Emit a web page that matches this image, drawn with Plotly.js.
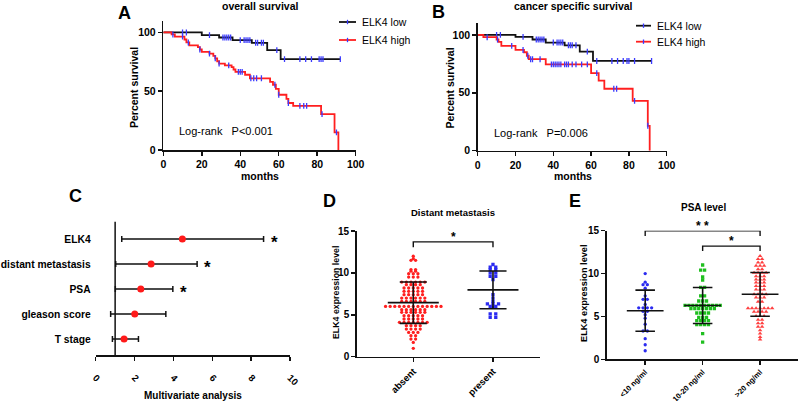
<!DOCTYPE html>
<html><head><meta charset="utf-8">
<script src="https://cdn.plot.ly/plotly-3.0.1.min.js"></script>
<style>html,body{margin:0;padding:0;background:#fff}#c{width:800px;height:401px}</style>
</head><body><div id="c"></div>
<script>
// ---------- Panel A: overall survival ----------
const lowTimeA = [0, 20, 29, 36, 46, 54, 61, 92];
const lowSurvA = [100, 97.7, 95.7, 93.5, 91.2, 85, 77.3, 77.3];
const lowCensA = [10, 12, 24, 31, 32, 33, 34, 35, 40, 42, 43, 44, 45, 48, 49, 51, 52, 59, 63, 71, 74, 77, 81, 82, 83, 92];
const highTimeA = [0, 4.3, 6, 11, 12, 13.5, 18, 19, 20, 24, 26, 27, 28, 29, 32, 35.5, 36.5, 37.5, 42.5, 45, 55.5, 57, 58.5, 60, 64, 65, 67.5, 82, 89, 91];
const highSurvA = [100, 98.3, 96.5, 94, 91.5, 89, 87.5, 85.5, 83.5, 82, 80, 78, 75.5, 73.5, 72, 70.5, 68.5, 66.5, 64, 61, 58, 55.5, 52, 47, 43.5, 40, 37.5, 30.5, 15, 0];
const highCensA = [5, 10, 13, 19, 24, 27, 29, 34, 39, 40, 41, 45.5, 47, 48.5, 51, 58, 60, 65, 71, 73, 74.5, 82.5, 90];

// ---------- Panel B: cancer specific survival ----------
const lowTimeB = [0, 20, 29, 36, 46, 54, 61, 92];
const lowSurvB = [100, 98.3, 96, 93.4, 91, 85.5, 77.5, 77.5];
const lowCensB = [10, 12, 24, 31, 32, 33, 34, 35, 40, 42, 43, 44, 45, 48, 49, 50, 52, 58, 63, 71, 74, 77, 79, 80, 83, 92];
const highTimeB = [0, 3, 10, 11, 12.5, 20, 24.5, 26, 27, 36, 60, 64, 67, 82, 90, 91];
const highSurvB = [100, 98, 96, 94, 90.5, 87, 85, 82, 79, 74.5, 67, 60.5, 53.5, 43, 21.5, 0];
const highCensB = [5, 10.5, 18, 24, 26.5, 28, 29, 33, 39, 40, 41, 42, 43, 44, 46, 47, 48, 50, 52, 55, 58, 63, 72, 73.5, 83, 90];

const kmTicksX = [0, 20, 40, 60, 80, 100];
const kmTicksY = [0, 50, 100];
const legendLabels = ['ELK4 low', 'ELK4 high'];

// ---------- Panel C: multivariate analysis ----------
const cLabels = ['ELK4', 'distant metastasis', 'PSA', 'gleason score', 'T stage'];
const cHR = [4.46, 2.85, 2.32, 2.01, 1.46];
const cLow = [1.34, 1.03, 1.01, 0.77, 0.86];
const cHigh = [8.64, 5.22, 3.97, 3.61, 2.20];
const cSig = ['*', '*', '*', '', ''];
const cTicks = [0, 2, 4, 6, 8, 10];

// ---------- Panel D: distant metastasis ----------
const dCats = ['absent', 'present'];
const dAbsent = [12.0, 11.7, 11.5, 11.5, 10.4, 10.4, 10.2, 10.2, 9.9, 9.9, 9.9, 9.5, 9.5, 9.5,
  8.9, 8.9, 8.9, 8.9, 8.9, 8.9, 8.6, 8.6, 8.6, 8.6, 8.2, 8.2, 8.2, 8.2, 8.2,
  7.8, 7.8, 7.8, 7.8, 7.8, 7.4, 7.4, 7.4, 7.4, 7.4, 7.0, 7.0, 7.0, 7.0, 7.0, 7.0,
  6.6, 6.6, 6.6, 6.6, 6.6, 6.6, 6.0, 6.0, 6.0, 6.0, 6.0, 6.0, 6.0, 6.0, 6.0, 6.0, 6.0, 6.0, 6.0,
  5.6, 5.6, 5.6, 5.6, 5.6, 5.6, 5.3, 5.3, 5.3, 5.3, 5.3, 5.3, 4.9, 4.9, 4.9, 4.9, 4.9,
  4.5, 4.5, 4.5, 4.5, 4.5, 4.1, 4.1, 4.1, 4.1, 4.1, 4.1, 4.1, 3.7, 3.7, 3.7, 3.7,
  3.3, 3.3, 3.3, 3.3, 2.9, 2.9, 2.9, 2.5, 2.5, 2.1, 2.1, 1.7, 1.0];
const dPresent = [11.0, 10.7, 10.7, 10.4, 10.4, 10.0, 10.0, 9.6, 9.6, 9.2, 7.4, 7.0, 6.6,
  6.3, 6.3, 6.3, 6.0, 6.0, 5.9, 5.1, 5.1, 4.7, 4.7];
const dMean = [6.45, 7.97];
const dSD = [2.47, 2.25];

// ---------- Panel E: PSA level ----------
const eCats = ['&lt;10 ng/ml', '10-20 ng/ml', '&gt;20 ng/ml'];
const eLow = [10.0, 9.0, 8.7, 8.7, 8.3, 7.4, 7.0, 7.0, 6.4, 6.0, 6.0, 6.0, 6.0, 5.6, 5.6, 5.2, 4.8, 4.1, 3.3, 3.3, 2.4, 1.7, 1.0];
const eMid = [11.0, 10.4, 10.4, 9.6, 9.25, 8.4, 8.4, 7.4, 7.4, 6.8, 6.8, 6.8,
  6.3, 6.3, 6.3, 6.3, 6.3, 6.3, 6.3, 6.3, 6.3, 6.3, 5.9, 5.9, 5.9, 5.9, 5.9, 5.9, 5.9,
  5.4, 5.4, 5.4, 5.4, 4.9, 4.9, 4.9, 4.5, 4.5, 4.5, 4.5, 4.05, 4.05, 4.05, 4.05, 3.0, 2.0];
const eHigh = [12.05, 11.7, 11.7, 11.3, 11.3, 10.9, 10.9, 10.9, 10.5, 10.5, 10.1, 10.1, 10.1, 10.1,
  9.7, 9.7, 9.7, 9.3, 9.3, 9.3, 8.95, 8.95, 8.95, 8.55, 8.55, 8.55, 8.15, 8.15, 8.15,
  7.6, 7.6, 7.6, 7.6, 7.2, 7.2, 7.2, 6.7, 6.7, 5.95, 5.95, 5.95, 5.95, 5.95, 5.95, 5.95,
  5.55, 5.55, 5.55, 5.55, 5.05, 5.05, 5.05, 4.6, 4.6, 4.2, 4.2, 3.8, 3.8, 3.4, 3.0, 2.6, 2.3];
const eMean = [5.67, 6.28, 7.58];
const eSD = [2.4, 2.1, 2.55];
const exprTicks = [0, 5, 10, 15];

// ---------- helpers ----------
const W = 800, H = 401;
const FONT = 'Liberation Sans, Arial, sans-serif';
const fx = p => p / W;
const fy = p => 1 - p / H;
const BLACK = '#111111', RED = '#ff1f1f', BLUE = '#2b2bf0', GREEN = '#1fbf1f', CENS = '#3a3aff';

function stepAt(times, surv, t) {
  let v = surv[0];
  for (let i = 0; i < times.length; i++) { if (times[i] <= t) v = surv[i]; }
  return v;
}
function swarm(vals, center, step) {
  const groups = {};
  vals.forEach((v, i) => { const k = v.toFixed(2); (groups[k] = groups[k] || []).push(i); });
  const xs = new Array(vals.length);
  Object.values(groups).forEach(idx => {
    const n = idx.length;
    idx.forEach((id, j) => { xs[id] = center + (j - (n - 1) / 2) * step; });
  });
  return xs;
}
function meanSdLines(means, sds, half, cap) {
  const xs = [], ys = [];
  means.forEach((m, i) => {
    xs.push(i - half, i + half, null); ys.push(m, m, null);
    xs.push(i, i, null); ys.push(m - sds[i], m + sds[i], null);
    xs.push(i - cap, i + cap, null); ys.push(m + sds[i], m + sds[i], null);
    xs.push(i - cap, i + cap, null); ys.push(m - sds[i], m - sds[i], null);
  });
  return {xs, ys};
}

const traces = [];
function km(times, surv, cens, color, xa, ya) {
  traces.push({x: times, y: surv, xaxis: xa, yaxis: ya, mode: 'lines', line: {shape: 'hv', color: color, width: 1.8}, hoverinfo: 'skip'});
  traces.push({x: cens, y: cens.map(t => stepAt(times, surv, t)), xaxis: xa, yaxis: ya, mode: 'markers',
    marker: {symbol: 'line-ns-open', size: 4.2, color: CENS, line: {color: CENS, width: 1.3}}, hoverinfo: 'skip'});
}
km(lowTimeA, lowSurvA, lowCensA, BLACK, 'x', 'y');
km(highTimeA, highSurvA, highCensA, RED, 'x', 'y');
km(lowTimeB, lowSurvB, lowCensB, BLACK, 'x2', 'y2');
km(highTimeB, highSurvB, highCensB, RED, 'x2', 'y2');

// Panel C
const cY = cLabels.map((_, i) => cLabels.length - 1 - i);
traces.push({x: cHR, y: cY, xaxis: 'x3', yaxis: 'y3', mode: 'markers',
  marker: {color: '#ff1a1a', size: 7},
  error_x: {type: 'data', symmetric: false, array: cHigh.map((h, i) => h - cHR[i]), arrayminus: cLow.map((l, i) => cHR[i] - l),
    color: BLACK, thickness: 1.5, width: 3}, hoverinfo: 'skip'});

// Panel D
traces.push({x: swarm(dAbsent, 0, 0.058), y: dAbsent, xaxis: 'x4', yaxis: 'y4', mode: 'markers',
  marker: {color: RED, size: 3.3}, hoverinfo: 'skip'});
traces.push({x: swarm(dPresent, 1, 0.07), y: dPresent, xaxis: 'x4', yaxis: 'y4', mode: 'markers',
  marker: {color: BLUE, size: 3.3, symbol: 'square'}, hoverinfo: 'skip'});
const dl = meanSdLines(dMean, dSD, 0.32, 0.17);
traces.push({x: dl.xs, y: dl.ys, xaxis: 'x4', yaxis: 'y4', mode: 'lines', line: {color: BLACK, width: 1.6}, hoverinfo: 'skip'});

// Panel E
traces.push({x: swarm(eLow, 0, 0.075), y: eLow, xaxis: 'x5', yaxis: 'y5', mode: 'markers',
  marker: {color: BLUE, size: 3.3}, hoverinfo: 'skip'});
traces.push({x: swarm(eMid, 1, 0.068), y: eMid, xaxis: 'x5', yaxis: 'y5', mode: 'markers',
  marker: {color: GREEN, size: 3.3, symbol: 'square'}, hoverinfo: 'skip'});
traces.push({x: swarm(eHigh, 2, 0.07), y: eHigh, xaxis: 'x5', yaxis: 'y5', mode: 'markers',
  marker: {color: '#ff4040', size: 4, symbol: 'triangle-up'}, hoverinfo: 'skip'});
const el = meanSdLines(eMean, eSD, 0.32, 0.17);
traces.push({x: el.xs, y: el.ys, xaxis: 'x5', yaxis: 'y5', mode: 'lines', line: {color: BLACK, width: 1.6}, hoverinfo: 'skip'});

// ---------- axes ----------
const tickFont = {family: FONT, size: 10.5, color: '#000', weight: 'bold'};
function ax(extra) {
  return Object.assign({showgrid: false, zeroline: false, showline: true, linecolor: BLACK, linewidth: 1.5,
    ticks: 'outside', ticklen: 4, tickwidth: 1.5, tickcolor: BLACK, tickfont: tickFont, fixedrange: true}, extra);
}

const layout = {
  width: W, height: H, margin: {l: 0, r: 0, t: 0, b: 0}, showlegend: false,
  paper_bgcolor: '#fff', plot_bgcolor: 'rgba(0,0,0,0)',
  xaxis: ax({domain: [fx(163.3), fx(355.7)], range: [0, 100], tickvals: kmTicksX, anchor: 'y'}),
  yaxis: ax({domain: [fy(150), fy(20.7)], range: [0, 110], tickvals: kmTicksY, anchor: 'x'}),
  xaxis2: ax({domain: [fx(477.7), fx(666.7)], range: [0, 100], tickvals: kmTicksX, anchor: 'y2'}),
  yaxis2: ax({domain: [fy(150.7), fy(23.3)], range: [0, 110], tickvals: kmTicksY, anchor: 'x2'}),
  xaxis3: ax({domain: [fx(95.7), fx(290)], range: [0, 10], tickvals: cTicks, tickangle: 45, anchor: 'y3',
    ticklabelstandoff: 8, tickfont: Object.assign({}, tickFont, {size: 9.5})}),
  yaxis3: ax({domain: [fy(355), fy(221.7)], range: [-0.64, 4.69], tickvals: cY, ticktext: cLabels, anchor: 'x3',
    showline: false, ticks: '', ticklabelstandoff: 4, tickfont: Object.assign({}, tickFont, {size: 10.3})}),
  xaxis4: ax({domain: [fx(356.7), fx(540)], range: [-0.71, 1.59], tickvals: [0, 1], ticktext: dCats, tickangle: -45, anchor: 'y4',
    tickfont: Object.assign({}, tickFont, {size: 9.5})}),
  yaxis4: ax({domain: [fy(356.7), fy(231)], range: [0, 15], tickvals: exprTicks, anchor: 'x4', tickfont: Object.assign({}, tickFont, {size: 10})}),
  xaxis5: ax({domain: [fx(606.7), fx(798)], range: [-0.67, 2.66], tickvals: [0, 1, 2], ticktext: eCats, tickangle: -45, anchor: 'y5',
    tickfont: Object.assign({}, tickFont, {size: 7.6})}),
  yaxis5: ax({domain: [fy(359.3), fy(230.7)], range: [0, 15], tickvals: exprTicks, anchor: 'x5', tickfont: Object.assign({}, tickFont, {size: 10})}),
  shapes: [], annotations: []
};

function ann(x, y, text, size, opts) {
  layout.annotations.push(Object.assign({xref: 'paper', yref: 'paper', x: fx(x), y: fy(y), text: text, showarrow: false,
    font: {family: FONT, size: size, color: '#000'}, xanchor: 'center', yanchor: 'middle'}, opts || {}));
}
// panel letters
ann(124, 13, '<b>A</b>', 18); ann(438.7, 12, '<b>B</b>', 18);
ann(75, 196, '<b>C</b>', 18); ann(329, 201, '<b>D</b>', 18); ann(574.5, 201, '<b>E</b>', 18);
// titles
ann(260.3, 6, '<b>overall survival</b>', 10.5);
ann(573, 6, '<b>cancer specific survival</b>', 10.5);
ann(453, 212, '<b>Distant metastasis</b>', 9.5);
ann(703, 207.5, '<b>PSA level</b>', 10);
ann(260, 176, '<b>months</b>', 10.5); ann(572.5, 176, '<b>months</b>', 10.5);
ann(134, 88, '<b>Percent survival</b>', 10.5, {textangle: -90});
ann(449.5, 88, '<b>Percent survival</b>', 10.5, {textangle: -90});
ann(336, 293, '<b>ELK4 expression level</b>', 8.8, {textangle: -90});
ann(584, 293, '<b>ELK4 expression level</b>', 9.2, {textangle: -90});
ann(193.3, 395, '<b>Multivariate analysis</b>', 10);
ann(176.7, 130.5, 'Log-rank\u00a0\u00a0 P&lt;0.001', 11, {xanchor: 'left'});
ann(492.3, 133, 'Log-rank\u00a0\u00a0 P=0.006', 11, {xanchor: 'left'});

// manual legends
function legendRow(x0, x1, y, color, label) {
  layout.shapes.push({type: 'line', xref: 'paper', yref: 'paper', x0: fx(x0), x1: fx(x1), y0: fy(y), y1: fy(y), line: {color: color, width: 1.8}});
  const xm = (x0 + x1) / 2;
  layout.shapes.push({type: 'line', xref: 'paper', yref: 'paper', x0: fx(xm), x1: fx(xm), y0: fy(y - 2.2), y1: fy(y + 2.2), line: {color: CENS, width: 1.3}});
  ann(x1 + 4, y, label, 10.5, {xanchor: 'left'});
}
legendRow(339, 356, 22, BLACK, legendLabels[0]);
legendRow(339, 356, 40, RED, legendLabels[1]);
legendRow(636, 651, 25.7, BLACK, legendLabels[0]);
legendRow(636, 651, 41.7, RED, legendLabels[1]);

// panel C reference line at HR = 1 and significance stars
layout.shapes.push({type: 'line', xref: 'x3', yref: 'y3 domain', x0: 1, x1: 1, y0: 0, y1: 1, line: {color: BLACK, width: 1.5}});
cSig.forEach((s, i) => {
  if (s) layout.annotations.push({xref: 'x3', yref: 'y3', x: cHigh[i] + 0.55, y: cY[i], text: '<b>' + s + '</b>', showarrow: false,
    font: {family: FONT, size: 17, color: '#000'}, xanchor: 'center', yanchor: 'middle', yshift: -4});
});

// significance brackets
function bracket(xa, ya, i0, i1, top, drop, label, starShift) {
  layout.shapes.push({type: 'path', xref: xa, yref: ya, path: `M ${i0},${top - drop} L ${i0},${top} L ${i1},${top} L ${i1},${top - drop}`,
    line: {color: BLACK, width: 1.4}});
  layout.annotations.push({xref: xa, yref: ya, x: (i0 + i1) / 2, y: top, text: '<b>' + label + '</b>', showarrow: false,
    font: {family: FONT, size: 12, color: '#000'}, xanchor: 'center', yanchor: 'bottom', yshift: starShift});
}
bracket('x4', 'y4', 0, 1, 13.7, 0.63, '*', -4);
bracket('x5', 'y5', 0, 2, 15.0, 0.62, '* *', -4);
bracket('x5', 'y5', 1, 2, 13.2, 0.58, '*', -4);

Plotly.newPlot('c', traces, layout, {staticPlot: true, displayModeBar: false});
</script>
</body></html>
